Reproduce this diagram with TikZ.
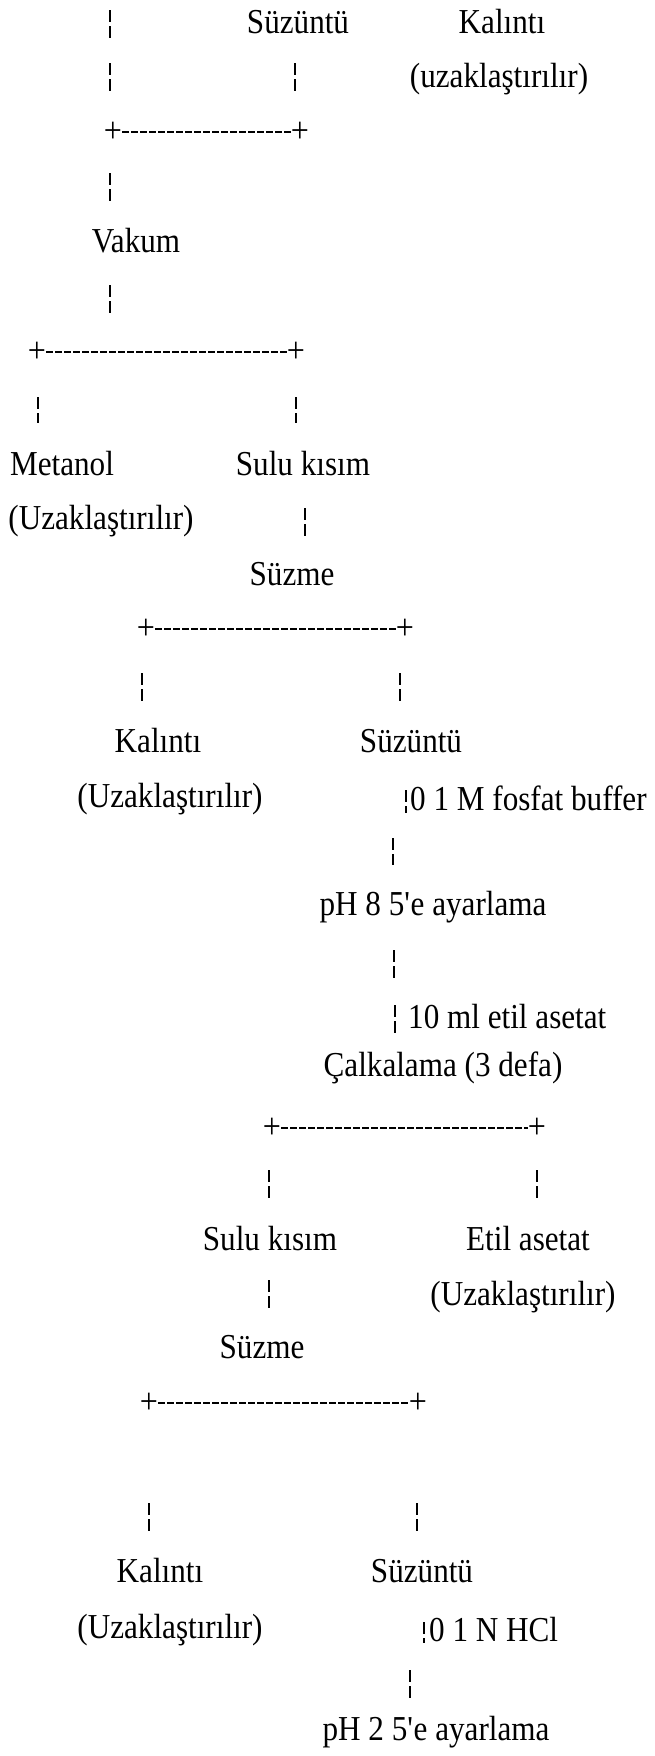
\documentclass[tikz,border=0pt]{standalone}
\usepackage{fontspec}
\setmainfont{Liberation Serif}[FakeStretch=0.89]
\begin{document}
\begin{tikzpicture}[x=1pt,y=-1pt,
  lbl/.style={anchor=base, inner sep=0pt, font=\fontsize{35}{40}\selectfont},
  lbll/.style={lbl, anchor=base west},
  bar/.style={line width=1.4pt, dash pattern=on 12pt off 4pt},
  link/.style={line width=1.4pt, dash pattern=on 7pt off 2pt},
  plus/.style={inner sep=0pt, font=\fontsize{36}{40}\selectfont}]
\useasboundingbox (0,0) rectangle (654,1756);
% texts
\node[lbl] (suz1) at (298,33) {Süzüntü};
\node[lbl] (kal1) at (502,33) {Kalıntı};
\node[lbl] (uz1) at (499,87) {(uzaklaştırılır)};
\node[lbl] (vak) at (136,252) {Vakum};
\node[lbl] (met) at (62,475) {Metanol};
\node[lbl] (sul1) at (303,475) {Sulu kısım};
\node[lbl] (uz2) at (101,529) {(Uzaklaştırılır)};
\node[lbl] (szm1) at (292,585) {Süzme};
\node[lbl] (kal2) at (158,752) {Kalıntı};
\node[lbl] (suz2) at (411,752) {Süzüntü};
\node[lbl] (uz3) at (170,807) {(Uzaklaştırılır)};
\node[lbll] (fos) at (410,810) {0 1 M fosfat buffer};
\node[lbl] (ph8) at (433,915) {pH 8 5\textquotesingle e ayarlama};
\node[lbll] (etl) at (408,1028) {10 ml etil asetat};
\node[lbl] (cal) at (443,1076) {Çalkalama (3 defa)};
\node[lbl] (sul2) at (270,1250) {Sulu kısım};
\node[lbl] (eta) at (528,1250) {Etil asetat};
\node[lbl] (uz4) at (523,1305) {(Uzaklaştırılır)};
\node[lbl] (szm2) at (262,1358) {Süzme};
\node[lbl] (kal3) at (160,1582) {Kalıntı};
\node[lbl] (suz3) at (422,1582) {Süzüntü};
\node[lbl] (uz5) at (170,1638) {(Uzaklaştırılır)};
\node[lbll] (hcl) at (429,1641) {0 1 N HCl};
\node[lbl] (ph2) at (436,1740) {pH 2 5\textquotesingle e ayarlama};
% plus marks and horizontal links
\node[plus] (p1a) at (113,132) {+};
\node[plus] (p1b) at (300,132) {+};
\node[plus] (p2a) at (37,352) {+};
\node[plus] (p2b) at (296,352) {+};
\node[plus] (p3a) at (146,629) {+};
\node[plus] (p3b) at (405,629) {+};
\node[plus] (p4a) at (272,1128) {+};
\node[plus] (p4b) at (537,1128) {+};
\node[plus] (p5a) at (149,1403) {+};
\node[plus] (p5b) at (418,1403) {+};
\draw[link] (p1a) -- (p1b);
\draw[link] (p2a) -- (p2b);
\draw[link] (p3a) -- (p3b);
\draw[link] (p4a) -- (p4b);
\draw[link] (p5a) -- (p5b);
% vertical broken bars
\foreach \n/\x/\ya/\yb in {b1/110/10/38, b2/110/63/93, b3/295/63/93, b4/110/173/203,
  b5/110/285/315, b6/38/397/423, b7/296/397/423, b8/305/508/537,
  b9/142/673/702, b10/400/673/702, b11/406/790/813, b12/393/838/865,
  b13/394/950/978, b14/395/1005/1033, b15/269/1170/1200, b16/537/1170/1200,
  b17/269/1280/1310, b18/149/1503/1532, b19/417/1503/1532, b20/424/1622/1643,
  b21/410/1670/1698}{
  \coordinate (\n t) at (\x,\ya);
  \coordinate (\n b) at (\x,\yb);
  \draw[bar] (\n t) -- (\n b);
}
\end{tikzpicture}
\end{document}
